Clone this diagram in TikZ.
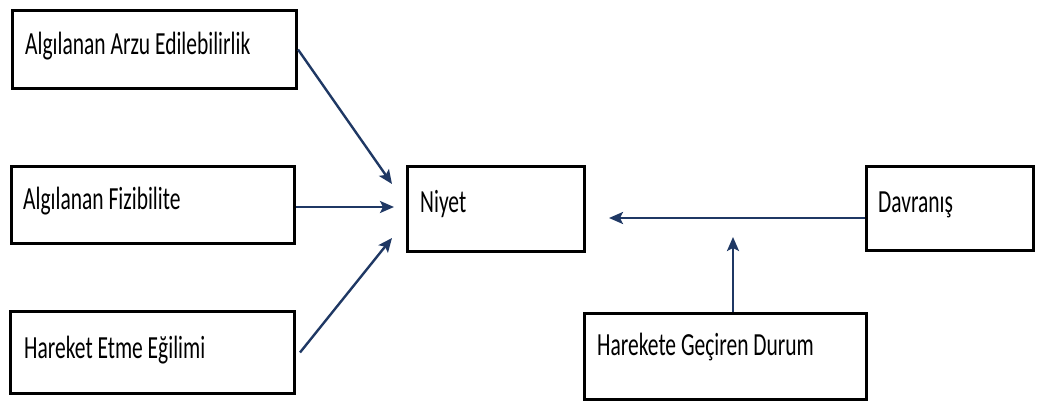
\documentclass[tikz,border=0pt]{standalone}
\usepackage{fontspec}
\setmainfont{Carlito}
\usetikzlibrary{arrows.meta,calc}
\definecolor{arrowblue}{HTML}{1F3864}
\tikzset{
  box/.style={draw=black, line width=3pt, inner sep=0pt, anchor=north west},
  lbl/.style={anchor=base west, inner sep=0pt, font=\fontsize{21.5}{24}\selectfont},
  conn/.style={draw=arrowblue, line width=2.4pt, -{Stealth[length=14pt,width=12pt,inset=3pt]}},
}
\newcommand{\tall}[1]{\scalebox{1}[1.5]{#1}}
\begin{document}
\begin{tikzpicture}[x=1pt,y=-1pt]
\useasboundingbox (0,0) rectangle (1037,401);
% boxes
\node[box, minimum width=284pt, minimum height=78pt] (b1) at (11,9) {};
\node[box, minimum width=283pt, minimum height=77pt] (b2) at (10,165) {};
\node[box, minimum width=284pt, minimum height=82pt] (b3) at (9,310) {};
\node[box, minimum width=177pt, minimum height=85pt] (ni) at (406,165) {};
\node[box, minimum width=167pt, minimum height=84pt] (da) at (865,165) {};
\node[box, minimum width=282pt, minimum height=86pt] (hg) at (583,312) {};
% labels
\node[lbl] (t1) at (25,55) {\tall{Algılanan Arzu Edilebilirlik}};
\node[lbl] (t2) at (23,210) {\tall{Algılanan Fizibilite}};
\node[lbl] (t3) at (24,358) {\tall{Hareket Etme Eğilimi}};
\node[lbl] (t4) at (420,212) {\tall{Niyet}};
\node[lbl] (t5) at (878,212) {\tall{Davranış}};
\node[lbl] (t6) at (597,355) {\tall{Harekete Geçiren Durum}};
% free ends
\coordinate (e1) at (392,184);
\coordinate (e2) at (394,207);
\coordinate (e3) at (392,238);
\coordinate (s4) at (865,218);
\coordinate (e4) at (609,218);
\coordinate (s5) at (733,312);
\coordinate (e5) at (733,237);
% connectors
\draw[conn] (b1.east) -- (e1);
\draw[conn] (b2.east |- e2) -- (e2);
\draw[conn] ($(b3.east)+(4,0)$) -- (e3);
\draw[conn] (s4) -- (e4);
\draw[conn] (s5) -- (e5);
\end{tikzpicture}
\end{document}
